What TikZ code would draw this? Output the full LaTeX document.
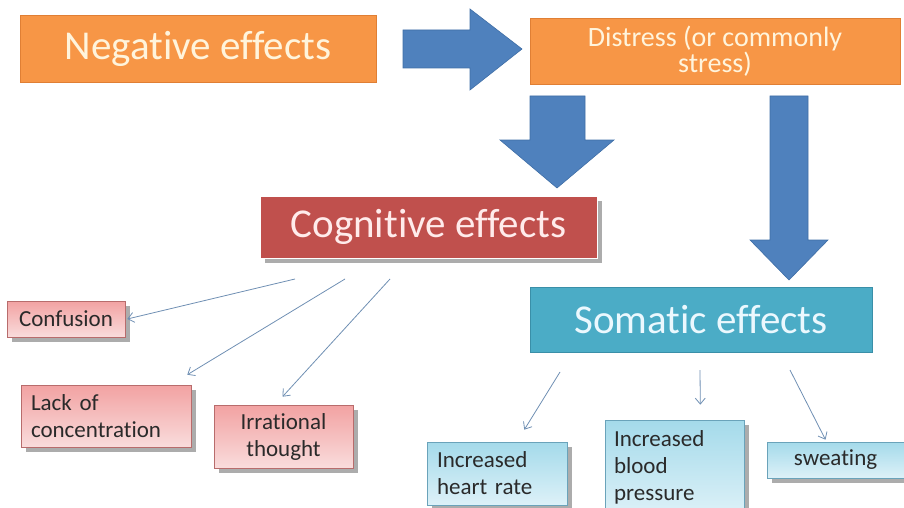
\documentclass[tikz,border=0pt]{standalone}
\usepackage{fontspec}
\setmainfont[Ligatures=NoCommon]{Carlito}
\usetikzlibrary{arrows.meta,shadows}
\definecolor{negorange}{HTML}{F79646}
\definecolor{negorangeline}{HTML}{E07F34}
\definecolor{creamtext}{HTML}{FFF4DC}
\definecolor{cogred}{HTML}{C0504D}
\definecolor{somteal}{HTML}{4BACC6}
\definecolor{somtealline}{HTML}{3A8FA8}
\definecolor{blockblue}{HTML}{4F81BD}
\definecolor{blockblueline}{HTML}{3F6EA6}
\definecolor{thinblue}{HTML}{6F8FB3}
\definecolor{pinktop}{HTML}{F2A2A2}
\definecolor{pinkbottom}{HTML}{F9DCDC}
\definecolor{pinkline}{HTML}{B86C6C}
\definecolor{cyantop}{HTML}{A4DAEA}
\definecolor{cyanbottom}{HTML}{DDF1F8}
\definecolor{cyanline}{HTML}{6AA3BA}
\definecolor{boxtext}{HTML}{2A2A2A}
\tikzset{
	orangebox/.style={draw=negorangeline, fill=negorange, line width=0.8pt, text=creamtext, inner sep=0pt},
	bigtitle/.style={font=\fontsize{41}{45}\selectfont},
	greyshadow/.style={drop shadow={shadow xshift=5pt, shadow yshift=-5pt, fill=gray!65, opacity=1}},
	pinkbox/.style={draw=pinkline, line width=0.6pt, top color=pinktop, bottom color=pinkbottom, text=boxtext, font=\fontsize{23}{27}\selectfont, inner sep=0pt, greyshadow},
	cyanbox/.style={draw=cyanline, line width=0.6pt, top color=cyantop, bottom color=cyanbottom, text=boxtext, font=\fontsize{23}{27}\selectfont, inner sep=0pt, greyshadow},
	blockarrow/.style={draw=blockblueline, fill=blockblue, line width=0.6pt},
	thinarrow/.style={draw=thinblue, line width=0.8pt, -{Straight Barb[length=6pt, width=10pt]}}
}

\begin{document}
\begin{tikzpicture}[x=1pt, y=-1pt]
		%%%%% START %%%%%
		\useasboundingbox (0, 0) rectangle (904, 508);
		
		\node[orangebox, bigtitle, minimum width=356, minimum height=67] (neg) at (198, 48.5) {Negative effects};
		\node[orangebox, font=\fontsize{28}{24}\selectfont, align=center, minimum width=370, minimum height=66] (dis) at (715, 51) {Distress (or commonly\\stress)};
		
		\draw[blockarrow] (403, 30) -- (470, 30) -- (470, 9) -- (522, 49) -- (470, 90) -- (470, 68) -- (403, 68) -- cycle;
		\draw[blockarrow] (530, 96) -- (585, 96) -- (585, 140) -- (614, 140) -- (557, 188) -- (500, 140) -- (530, 140) -- cycle;
		\draw[blockarrow] (770, 96) -- (808, 96) -- (808, 240) -- (828, 240) -- (789, 280) -- (750, 240) -- (770, 240) -- cycle;
		
		\node[draw=white, line width=1pt, fill=cogred, text=white!92!red, bigtitle, inner sep=0pt, minimum width=337, minimum height=62, greyshadow] (cog) at (428.5, 227) {Cognitive effects};
		\node[draw=somtealline, line width=0.8pt, fill=somteal, text=white!92!cyan, bigtitle, inner sep=0pt, minimum width=342, minimum height=65] (som) at (701, 319.5) {Somatic effects};
		
		\node[pinkbox, minimum width=118, minimum height=36] (conf) at (66, 319) {Confusion};
		\node[pinkbox, minimum width=170, minimum height=62, text width=150, align=left] (lack) at (106, 416) {Lack of\\concentration};
		\node[pinkbox, minimum width=139, minimum height=63, align=center] (irr) at (283.5, 436.5) {Irrational\\thought};
		
		\node[cyanbox, minimum width=140, minimum height=63, text width=120, align=left] (heart) at (497, 473.5) {Increased\\heart rate};
		\node[cyanbox, minimum width=139, minimum height=95, text width=121, align=left] (blood) at (674.5, 467.5) {Increased\\blood\\pressure};
		\node[cyanbox, minimum width=137, minimum height=36] (sweat) at (835.5, 460) {sweating};
		
		\coordinate (cogA) at (295, 279);
		\coordinate (cogB) at (345, 279);
		\coordinate (cogC) at (390, 279);
		\coordinate (somA) at (560, 372);
		\coordinate (somB) at (700, 370);
		\coordinate (somC) at (790, 370);
		
		\draw[thinarrow] (cogA) -- ([xshift=2pt]conf.east);
		\draw[thinarrow] (cogB) -- ([shift={(-4, -10)}]lack.north east);
		\draw[thinarrow] (cogC) -- ([shift={(-1, -8)}]irr.north);
		\draw[thinarrow] (somA) -- ([shift={(-43, -12)}]heart.north east);
		\draw[thinarrow] (somB) -- ([shift={(-44, -15)}]blood.north east);
		\draw[thinarrow] (somC) -- ([shift={(-10, -2)}]sweat.north);
		%%%%% END %%%%%
\end{tikzpicture}
\end{document}
